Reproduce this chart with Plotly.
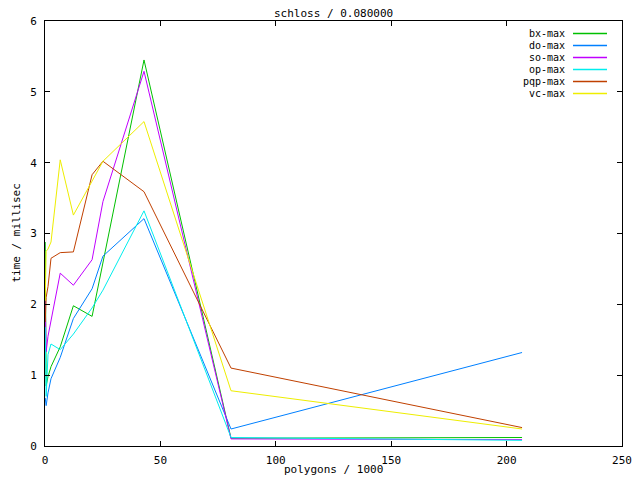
import plotly.graph_objects as go

# ---- data ----
polygons = [0.1, 0.5, 1.3, 2.6, 6.6, 12.3, 20.4, 25.1, 42.9, 80.6, 206.7]

series_names = ["bx-max", "do-max", "so-max", "op-max", "pqp-max", "vc-max"]

bx_max  = [2.88, 0.85, 0.98, 1.12, 1.40, 1.98, 1.83, 2.59, 5.45, 0.11, 0.12]
do_max  = [0.68, 0.57, 0.75, 0.95, 1.25, 1.80, 2.22, 2.68, 3.21, 0.24, 1.32]
so_max  = [2.06, 1.33, 1.55, 1.78, 2.44, 2.27, 2.63, 3.45, 5.29, 0.10, 0.09]
op_max  = [1.68, 0.70, 1.29, 1.44, 1.36, 1.58, 1.95, 2.20, 3.32, 0.12, 0.08]
pqp_max = [1.75, 2.10, 2.25, 2.65, 2.73, 2.74, 3.83, 4.02, 3.59, 1.10, 0.26]
vc_max  = [2.05, 2.75, 2.78, 2.88, 4.04, 3.26, 3.74, 4.02, 4.58, 0.78, 0.24]

series_values = [bx_max, do_max, so_max, op_max, pqp_max, vc_max]
colors = ["#00c000", "#0080ff", "#c000ff", "#00eeee", "#c04000", "#eeee00"]

title_text = "schloss / 0.080000"
x_title = "polygons / 1000"
y_title = "time / millisec"
x_ticks = [0, 50, 100, 150, 200, 250]
y_ticks = [0, 1, 2, 3, 4, 5, 6]

FONT = "DejaVu Sans Mono"

fig = go.Figure()
for name, vals, col in zip(series_names, series_values, colors):
    fig.add_trace(go.Scatter(x=polygons, y=vals, mode="lines", name=name,
                             line=dict(color=col, width=1), showlegend=False))

# the page body adds an 8px margin; size the figure so the screenshot is 640x480
OFF = 8
W, H = 640 - OFF, 480 - OFF
# plot area in screenshot pixels
L, R, T, B = 45, 622, 21, 446
PW, PH = R - L, B - T


def px(xp):
    return (xp - L) / PW


def py(yp):
    return (B - yp) / PH


# gnuplot-style key: right-aligned text followed by line sample
for i, (name, col) in enumerate(zip(series_names, colors)):
    ypx = 33.5 + 12 * i
    fig.add_annotation(xref="paper", yref="paper", x=px(566), y=py(ypx),
                       text=name, showarrow=False, xanchor="right", yanchor="middle",
                       borderpad=0, font=dict(family=FONT, size=10, color="black"))
    fig.add_shape(type="line", xref="paper", yref="paper", layer="above",
                  x0=px(573), x1=px(607), y0=py(ypx), y1=py(ypx),
                  line=dict(color=col, width=1.5))

fig.add_annotation(xref="paper", yref="paper", x=0.5, y=py(13),
                   text=title_text, showarrow=False, xanchor="center", yanchor="middle",
                   font=dict(family=FONT, size=11, color="black"))
fig.add_annotation(xref="paper", yref="paper", x=0.5, y=py(469),
                   text=x_title, showarrow=False, xanchor="center", yanchor="middle",
                   font=dict(family=FONT, size=11, color="black"))
fig.add_annotation(xref="paper", yref="paper", x=px(9), y=py(233),
                   text=y_title, showarrow=False, xanchor="left", yanchor="middle",
                   textangle=-90, borderpad=0,
                   font=dict(family=FONT, size=11, color="black"))

axis_common = dict(showgrid=False, zeroline=False, showline=True, linecolor="black",
                   linewidth=1, mirror="ticks", ticks="inside", ticklen=5,
                   tickcolor="black", automargin=False,
                   tickfont=dict(family=FONT, size=11, color="black"))

fig.update_layout(
    width=W, height=H,
    margin=dict(l=L - OFF, r=640 - R, t=T - OFF, b=480 - B),
    paper_bgcolor="white", plot_bgcolor="white",
    xaxis=dict(range=[0, 250], tickvals=x_ticks, ticklabelstandoff=4, **axis_common),
    yaxis=dict(range=[0, 6], tickvals=y_ticks, ticklabelstandoff=5, **axis_common),
    font=dict(family=FONT, size=11, color="black"),
)

fig.write_html("out.html")
